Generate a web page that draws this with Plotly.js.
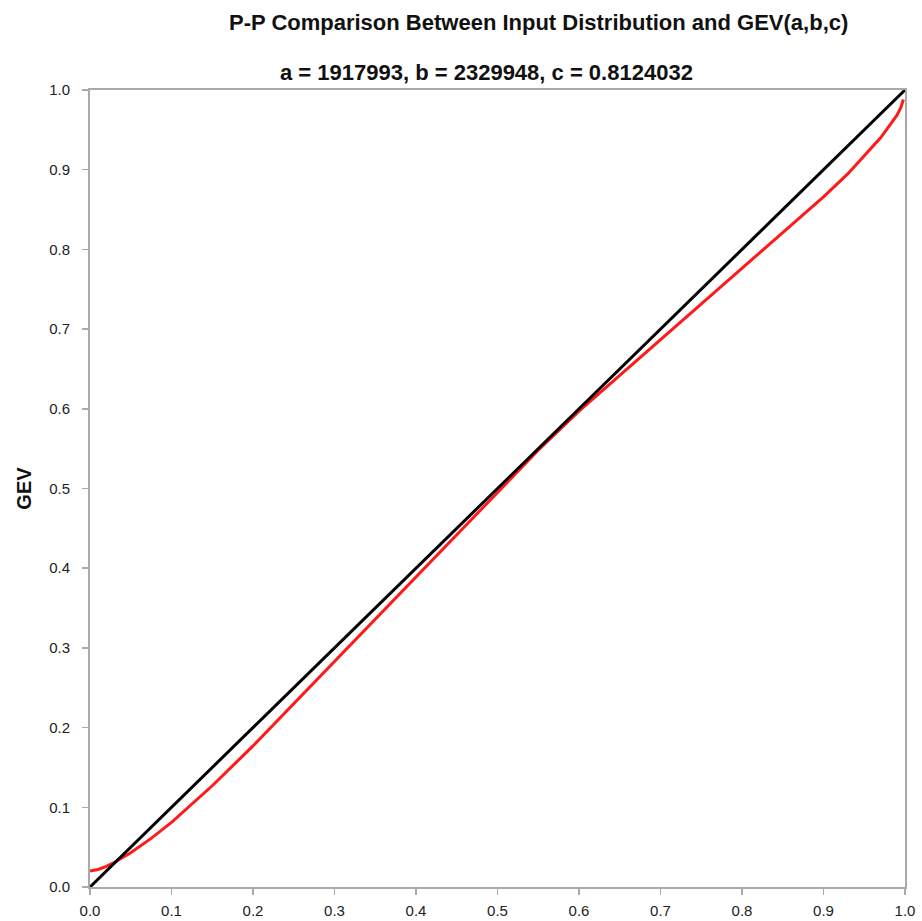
<!DOCTYPE html>
<html>
<head>
<meta charset="utf-8">
<script src="https://cdn.plot.ly/plotly-3.0.1.min.js"></script>
<style>html,body{margin:0;padding:0;background:#fff;}#chart{width:922px;height:921px;}</style>
</head>
<body>
<div id="chart"></div>
<script>
// Reference line (perfect fit)
const refX = [0, 1];
const refY = [0, 1];
// P-P points: input distribution probability vs GEV probability
const ppX = [0, 0.01, 0.02, 0.03, 0.05, 0.075, 0.1, 0.15, 0.2, 0.25, 0.3, 0.35, 0.4, 0.45, 0.5, 0.55, 0.6, 0.65, 0.7, 0.75, 0.8, 0.85, 0.9, 0.93, 0.95, 0.97, 0.98, 0.99, 0.995, 0.998];
const ppY = [0.020, 0.022, 0.026, 0.031, 0.043, 0.061, 0.081, 0.127, 0.177, 0.230, 0.284, 0.337, 0.390, 0.443, 0.496, 0.548, 0.597, 0.642, 0.687, 0.732, 0.777, 0.822, 0.866, 0.895, 0.917, 0.940, 0.954, 0.968, 0.978, 0.988];
const tickVals = [0, 0.1, 0.2, 0.3, 0.4, 0.5, 0.6, 0.7, 0.8, 0.9, 1.0];
const tickText = ["0.0", "0.1", "0.2", "0.3", "0.4", "0.5", "0.6", "0.7", "0.8", "0.9", "1.0"];
const titleText = "P-P Comparison Between Input Distribution and GEV(a,b,c)";
const subtitleText = "a = 1917993, b = 2329948, c = 0.8124032";
const yTitle = "GEV";

const traces = [
  {x: ppX, y: ppY, mode: "lines", line: {color: "#ff1a1a", width: 3}, hoverinfo: "none"},
  {x: refX, y: refY, mode: "lines", line: {color: "#000000", width: 3}, hoverinfo: "none"}
];

const axisCommon = {
  range: [0, 1],
  tickvals: tickVals,
  ticktext: tickText,
  ticks: "outside",
  ticklen: 6,
  tickcolor: "#aaaaaa",
  tickwidth: 1.5,
  showline: true,
  mirror: true,
  linecolor: "#aaaaaa",
  linewidth: 2,
  showgrid: false,
  zeroline: false,
  tickfont: {family: "Liberation Sans, Arial, sans-serif", size: 15, color: "#222222"}
};

const layout = {
  width: 922, height: 921,
  margin: {l: 90, r: 17, t: 90, b: 34},
  paper_bgcolor: "#ffffff",
  plot_bgcolor: "#ffffff",
  showlegend: false,
  xaxis: Object.assign({}, axisCommon, {ticklabelstandoff: 3}),
  yaxis: Object.assign({}, axisCommon, {
    ticklabelstandoff: 9,
    title: {text: yTitle, font: {family: "Liberation Sans, Arial, sans-serif", size: 20, color: "#111111", weight: "bold"}, standoff: 12}
  }),
  annotations: [
    {text: "<b>" + titleText + "</b>", xref: "paper", yref: "paper", x: 0.5, y: 1, xanchor: "center", yanchor: "middle",
     xshift: 41, yshift: 68, showarrow: false, font: {family: "Liberation Sans, Arial, sans-serif", size: 22, color: "#111111"}},
    {text: "<b>" + subtitleText + "</b>", xref: "paper", yref: "paper", x: 0.5, y: 1, xanchor: "center", yanchor: "middle",
     xshift: -11, yshift: 18, showarrow: false, font: {family: "Liberation Sans, Arial, sans-serif", size: 22, color: "#111111"}}
  ]
};

Plotly.newPlot("chart", traces, layout, {displayModeBar: false, staticPlot: true});
</script>
</body>
</html>
